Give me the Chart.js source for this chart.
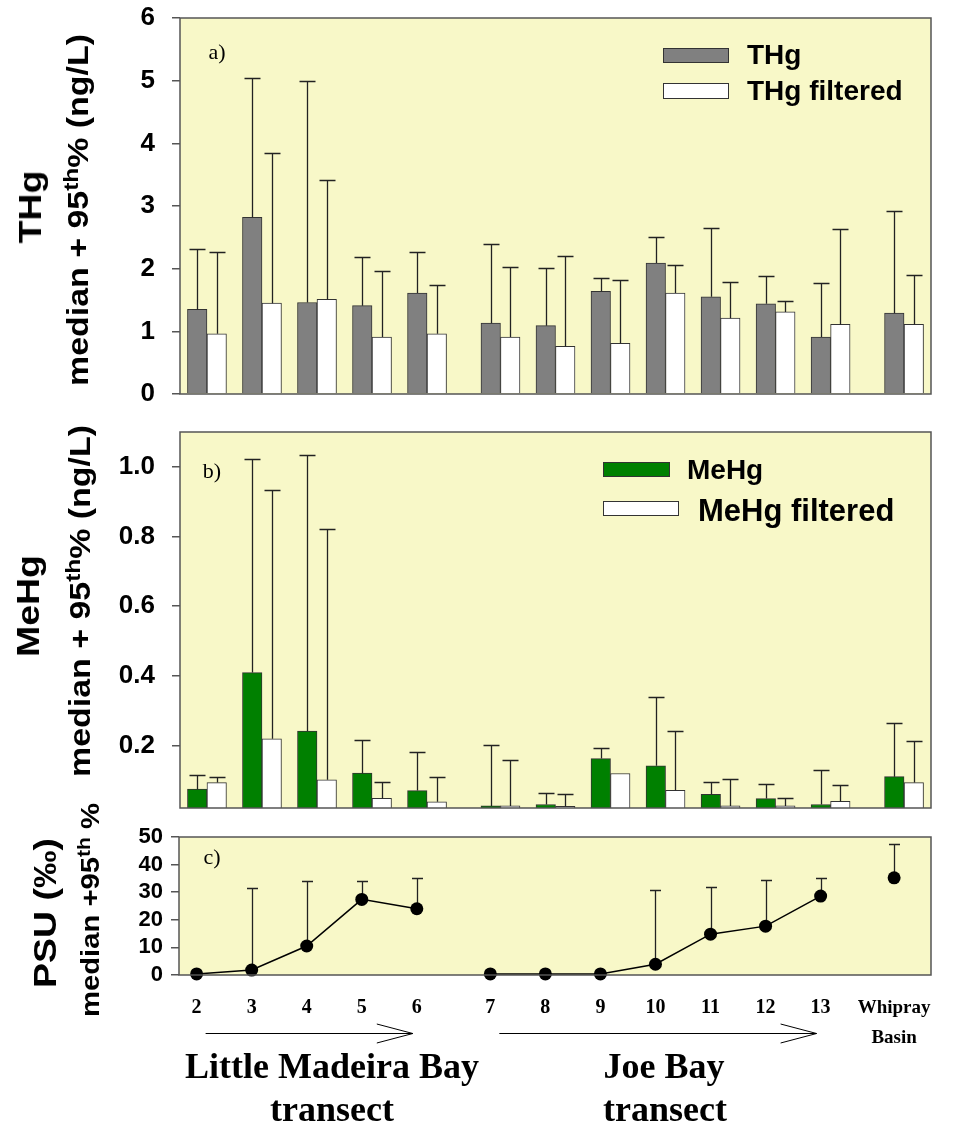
<!DOCTYPE html>
<html><head><meta charset="utf-8">
<script src="https://cdn.jsdelivr.net/npm/chart.js@4.4.1/dist/chart.umd.min.js"></script>
<style>
html,body{margin:0;padding:0;background:#fff;}
#wrap{position:relative;width:967px;height:1131px;overflow:hidden;font-family:"Liberation Sans",Arial,sans-serif;}
canvas{position:absolute;left:0;}
.rot{position:absolute;transform:translate(-50%,-50%) rotate(-90deg) scaleX(1.17);white-space:nowrap;font-weight:bold;color:#000;line-height:1;}
.t{position:absolute;white-space:nowrap;color:#000;line-height:1;}
.c{transform:translate(-50%,-50%);}
.l{transform:translate(0,-50%);}
.sw{position:absolute;border:1px solid #333;box-sizing:border-box;}
.serif{font-family:"Liberation Serif","Times New Roman",serif;}
sup{font-size:0.72em;vertical-align:0.45em;line-height:0;}
</style></head>
<body><div id="wrap">
<canvas id="ca" width="967" height="442" style="top:-15px;width:967px;height:442px"></canvas>
<canvas id="cb" width="967" height="442" style="top:399px;width:967px;height:442px"></canvas>
<canvas id="cc" width="967" height="316" style="top:815px;width:967px;height:316px"></canvas>

<div class="rot" style="left:30px;top:207px;font-size:32px;">THg</div>
<div class="rot" style="left:78px;top:210px;font-size:29px;">median + 95<sup>th</sup>% (ng/L)</div>
<div class="rot" style="left:28px;top:606px;font-size:32px;">MeHg</div>
<div class="rot" style="left:80px;top:601px;font-size:29px;">median + 95<sup>th</sup>% (ng/L)</div>
<div class="rot" style="left:45px;top:913px;font-size:32px;">PSU (‰)</div>
<div class="rot" style="left:90px;top:910px;font-size:25px;">median +95<sup>th</sup> %</div>

<div class="t c serif" style="left:217px;top:52px;font-size:22px;">a)</div>
<div class="t c serif" style="left:212px;top:471px;font-size:22px;">b)</div>
<div class="t c serif" style="left:212px;top:857px;font-size:22px;">c)</div>

<div class="sw" style="left:663px;top:48px;width:66px;height:15px;background:#808080;"></div>
<div class="t l" style="left:747px;top:55px;font-size:28px;font-weight:bold;">THg</div>
<div class="sw" style="left:663px;top:83px;width:66px;height:16px;background:#fff;"></div>
<div class="t l" style="left:747px;top:91px;font-size:28px;font-weight:bold;">THg filtered</div>

<div class="sw" style="left:603px;top:462px;width:67px;height:15px;background:#008000;"></div>
<div class="t l" style="left:687px;top:470px;font-size:28px;font-weight:bold;">MeHg</div>
<div class="sw" style="left:603px;top:501px;width:76px;height:15px;background:#fff;"></div>
<div class="t l" style="left:698px;top:510px;font-size:31px;font-weight:bold;">MeHg filtered</div>

<div class="t c serif" style="left:332px;top:1066px;font-size:36px;font-weight:bold;">Little Madeira Bay</div>
<div class="t c serif" style="left:332px;top:1109px;font-size:36px;font-weight:bold;">transect</div>
<div class="t c serif" style="left:664px;top:1066px;font-size:36px;font-weight:bold;">Joe Bay</div>
<div class="t c serif" style="left:665px;top:1109px;font-size:36px;font-weight:bold;">transect</div>
</div>
<script>
// ---- data ----
const categories = ['2','3','4','5','6','7','8','9','10','11','12','13','Whipray Basin'];
const transect = [0,0,0,0,0,1,1,1,1,1,1,1,2];
const thgMedian = [1.35,2.82,1.46,1.41,1.61,1.13,1.09,1.64,2.09,1.55,1.44,0.91,1.29];
const thg95 = [2.31,5.04,5.00,2.19,2.27,2.39,2.01,1.85,2.50,2.65,1.88,1.77,2.92];
const thgFiltMedian = [0.96,1.45,1.51,0.91,0.96,0.91,0.76,0.81,1.61,1.21,1.31,1.11,1.11];
const thgFilt95 = [2.26,3.84,3.41,1.96,1.74,2.02,2.21,1.82,2.06,1.78,1.48,2.63,1.90];
const mehgMedian = [0.074,0.409,0.241,0.120,0.070,0.026,0.030,0.162,0.141,0.059,0.047,0.030,0.110];
const mehg95 = [0.116,1.023,1.034,0.216,0.180,0.200,0.063,0.192,0.340,0.094,0.089,0.130,0.265];
const mehgFiltMedian = [0.093,0.219,0.101,0.048,0.038,0.026,0.025,0.119,0.071,0.026,0.026,0.039,0.093];
const mehgFilt95 = [0.109,0.933,0.822,0.096,0.108,0.158,0.060,null,0.240,0.103,0.049,0.086,0.213];
const psuMedian = [0.4,1.8,10.5,27.4,24.0,0.4,0.4,0.4,3.9,14.8,17.7,28.6,35.2];
const psu95 = [null,31.7,34.2,34.1,35.2,null,null,null,30.9,32.0,34.3,35.3,47.5];
const thgTicks = [0,1,2,3,4,5,6];
const mehgTicks = [0.2,0.4,0.6,0.8,1.0];
const psuTicks = [0,10,20,30,40,50];

// ---- layout ----
const GAP = 0.335;
const pos = categories.map((c,i)=> i + GAP*transect[i]);
const BG = '#F8F8C8';
const FRAME = '#555';

const framePlugin = {
  id:'frame',
  beforeDraw(chart){
    const {ctx, chartArea:a} = chart;
    ctx.save(); ctx.fillStyle = BG;
    ctx.fillRect(a.left, a.top, a.right-a.left, a.bottom-a.top);
    ctx.restore();
  },
  afterDraw(chart){
    const {ctx, chartArea:a} = chart;
    ctx.save(); ctx.strokeStyle = FRAME; ctx.lineWidth = 1.5;
    ctx.strokeRect(a.left, a.top, a.right-a.left, a.bottom-a.top);
    ctx.restore();
  }
};
function drawErrors(chart, cap){
  const ctx = chart.ctx, ys = chart.scales.y;
  ctx.save(); ctx.strokeStyle = '#222'; ctx.lineWidth = 1.3;
  chart.data.datasets.forEach((ds, di)=>{
    if(!ds.errors) return;
    const meta = chart.getDatasetMeta(di);
    meta.data.forEach((el,i)=>{
      const e = ds.errors[i], v = ds.data[i].y;
      if(e==null || e<=v) return;
      const x = Math.round(el.x)+0.5;
      const y0 = ys.getPixelForValue(v), y1 = Math.round(ys.getPixelForValue(e))+0.5;
      ctx.beginPath(); ctx.moveTo(x,y0); ctx.lineTo(x,y1);
      ctx.moveTo(x-cap/2,y1); ctx.lineTo(x+cap/2,y1); ctx.stroke();
    });
  });
  ctx.restore();
}
const barErrPlugin = { id:'barErr', afterDatasetsDraw(chart){ drawErrors(chart, 16); } };
const lineErrPlugin = { id:'lineErr', beforeDatasetsDraw(chart){ drawErrors(chart, 11); } };
const arrowPlugin = {
  id:'arrows',
  afterDraw(chart){
    const {ctx, chartArea:a} = chart; const xs = chart.scales.x;
    const y = a.bottom + 58;
    ctx.save(); ctx.strokeStyle = '#000'; ctx.lineWidth = 1;
    [0,1].forEach(g=>{
      const idx = transect.map((t,i)=>t===g?i:-1).filter(i=>i>=0);
      const x0 = xs.getPixelForValue(pos[idx[0]]) + 9;
      const x1 = xs.getPixelForValue(pos[idx[idx.length-1]]) - 4;
      ctx.beginPath();
      ctx.moveTo(x0, y+0.5); ctx.lineTo(x1, y+0.5);
      ctx.moveTo(x1-36, y-9); ctx.lineTo(x1, y+0.5); ctx.lineTo(x1-36, y+10);
      ctx.stroke();
    });
    ctx.restore();
  }
};

function yAxis(ticks, size, pad, fmt, min, max){
  return {
    min, max,
    afterBuildTicks: s => { s.ticks = ticks.map(v=>({value:v})); },
    afterFit: s => { s.width = 70; },
    grid:{drawOnChartArea:false, tickLength:8, color:FRAME, lineWidth:1.5},
    border:{display:false},
    ticks:{color:'#000', padding:pad, autoSkip:false, font:{family:'Liberation Sans', weight:'bold', size:size}, callback: fmt}
  };
}

function barPanel(id, series, yCfg, padTop, padBottom){
  new Chart(document.getElementById(id), {
    type:'bar',
    data:{datasets: series.map(s=>({
      label:s.label,
      data:s.values.map((v,i)=>({x:pos[i], y:v})),
      errors:s.errors,
      backgroundColor:s.color, borderColor:'#333', borderWidth:1, borderSkipped:'bottom',
      barThickness:19.5
    }))},
    options:{
      responsive:false, animation:false, events:[],
      layout:{padding:{left:110, right:36, top:padTop, bottom:padBottom}},
      plugins:{legend:{display:false}, tooltip:{enabled:false}},
      scales:{
        x:{type:'linear', min:-0.49, max:13.16, offset:false, display:false},
        y:yCfg
      }
    },
    plugins:[framePlugin, barErrPlugin]
  });
}

barPanel('ca', [
  {label:'THg', values:thgMedian, errors:thg95, color:'#808080'},
  {label:'THg filtered', values:thgFiltMedian, errors:thgFilt95, color:'#ffffff'}
], yAxis(thgTicks, 26, 17, v=>String(v), 0, 6), 33, 33);

barPanel('cb', [
  {label:'MeHg', values:mehgMedian, errors:mehg95, color:'#008000'},
  {label:'MeHg filtered', values:mehgFiltMedian, errors:mehgFilt95, color:'#ffffff'}
], yAxis(mehgTicks, 26, 17, v=>Number(v).toFixed(1), 0.02, 1.1), 33, 33);

new Chart(document.getElementById('cc'), {
  type:'line',
  data:{datasets:[{
    label:'PSU',
    data: psuMedian.map((v,i)=>({x:pos[i], y:v})),
    errors: psu95,
    borderColor:'#000', borderWidth:1.5,
    pointRadius:6.5, pointBackgroundColor:'#000', pointBorderColor:'#000', pointBorderWidth:0,
    clip:false,
    segment:{borderColor: c => transect[c.p0DataIndex]!==transect[c.p1DataIndex] ? 'rgba(0,0,0,0)' : '#000'}
  }]},
  options:{
    responsive:false, animation:false, events:[],
    layout:{padding:{left:109, right:36, top:22, bottom:76}},
    plugins:{legend:{display:false}, tooltip:{enabled:false}},
    scales:{
      x:{type:'linear', min:-0.32, max:13.34, offset:false,
        afterBuildTicks: s => { s.ticks = pos.map(v=>({value:v})); },
        afterFit: s => { s.height = 80; },
        grid:{display:false, drawTicks:false}, border:{display:false},
        ticks:{padding:18, autoSkip:false, maxRotation:0, minRotation:0, color:'#000',
          font: c => c.index===12 ? {family:'Liberation Serif', weight:'bold', size:19, lineHeight:1.58}
                                  : {family:'Liberation Serif', weight:'bold', size:20, lineHeight:1.5},
          callback:(v,i)=> categories[i].includes(' ') ? categories[i].split(' ') : categories[i]}
      },
      y: yAxis(psuTicks, 22, 8, v=>String(v), 0, 50)
    }
  },
  plugins:[framePlugin, lineErrPlugin, arrowPlugin]
});
</script>
</body></html>
